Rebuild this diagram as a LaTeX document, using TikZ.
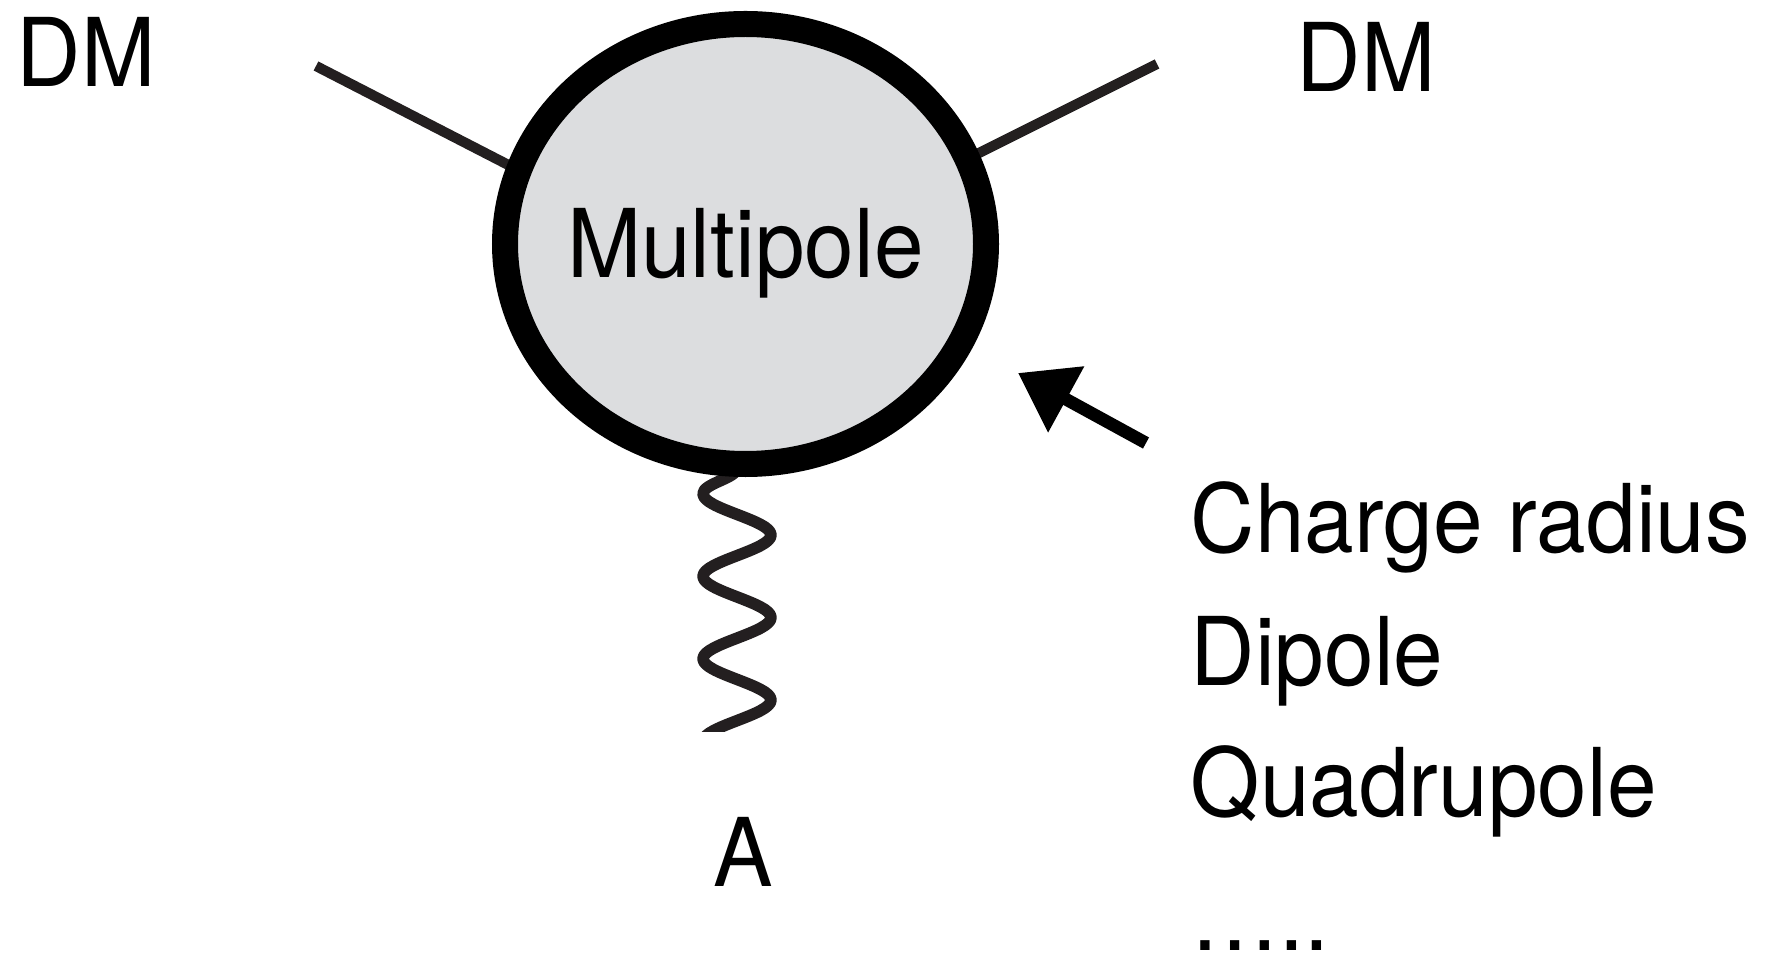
\documentclass[tikz,border=0pt]{standalone}
\usepackage{fontspec}
\setmainfont[FakeStretch=0.94]{TeX Gyre Heros}
\usetikzlibrary{arrows.meta, shapes.geometric, decorations.pathmorphing, backgrounds}
\definecolor{cink}{HTML}{231F20}
\definecolor{cblob}{HTML}{DCDDDF}
\tikzset{
  every picture/.style={font=\fontsize{27}{33}\selectfont},
  lbl/.style={inner sep=0pt, text=black},
  blob/.style={ellipse, draw=black, fill=cblob, line width=7.4pt, minimum width=4.81cm, minimum height=4.40cm, inner sep=0pt, outer sep=0pt},
  leg/.style={draw=cink, line width=2.9pt},
  photon/.style={draw=cink, line width=3.3pt, line join=round, decorate, decoration={snake, mirror, amplitude=0.34cm, segment length=0.825cm, pre=lineto, pre length=0.04cm}},
  arrow/.style={-{Triangle[length=0.55cm, width=0.72cm]}, draw=black, line width=3.6pt},
}
\begin{document}
\begin{tikzpicture}
  \useasboundingbox (0,0) rectangle (17.69,-9.59);
  % vertex blob and its label
  \node[blob] (blob) at (7.455,-2.44) {};
  \node[lbl, text height=19.3pt, text depth=0pt] (mpole) at (blob.center) {Multipole};
  % external legs
  \node[lbl, anchor=base west] (dmin) at (0.16,-0.87) {DM};
  \node[lbl, anchor=base west] (dmout) at (12.96,-0.92) {DM};
  \coordinate (legin) at (3.16,-0.66);
  \coordinate (legout) at (11.57,-0.64);
  \coordinate (phend) at (7.37,-7.9);
  \node[lbl, anchor=base] (gauge) at (7.435,-8.86) {A};
  \begin{scope}[on background layer]
    \draw[leg] (legin) -- (blob.162);
    \draw[leg] (legout) -- (blob.21);
    \clip (0,0) rectangle (17.69,-7.31);
    \draw[photon] (blob.south -| phend) -- (phend);
  \end{scope}
  % what the blob can stand for
  \foreach \t/\y in {Charge radius/5.53, Dipole/6.85, Quadrupole/8.16, …../9.50}
    \node[lbl, anchor=base west] (term\y) at (11.90,-\y) {\t};
  \coordinate (arrtail) at (11.46,-4.43);
  \coordinate (arrtip) at (10.18,-3.73);
  \draw[arrow] (arrtail) -- (arrtip);
\end{tikzpicture}
\end{document}
